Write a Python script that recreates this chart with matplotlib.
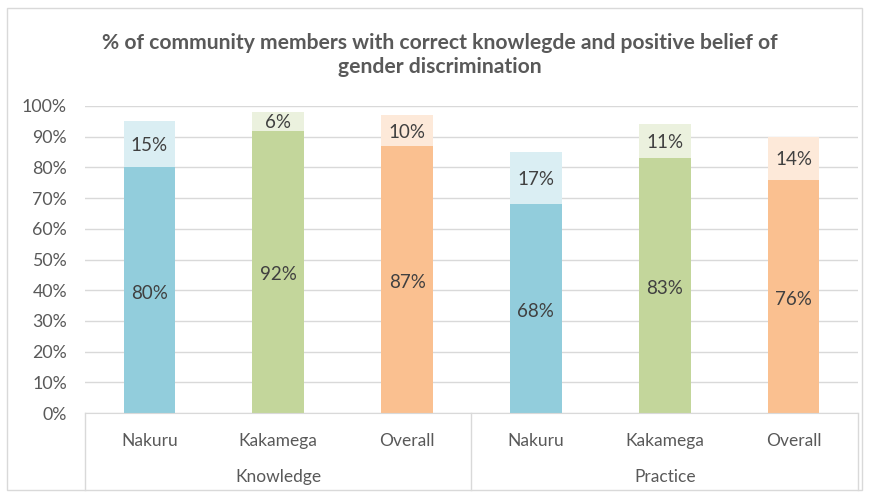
import numpy as np
import matplotlib.pyplot as plt
from matplotlib.patches import Rectangle

plt.rcParams['font.family'] = ['Lato', 'DejaVu Sans']

groups = ["Knowledge", "Practice"]
places = ["Nakuru", "Kakamega", "Overall"]
# correct / positive share and the extra share stacked on top
base = [0.80, 0.92, 0.87, 0.68, 0.83, 0.76]
extra = [0.15, 0.06, 0.10, 0.17, 0.11, 0.14]

dark = ["#92CDDC", "#C3D69B", "#FAC090"]
light = ["#DAEEF3", "#EBF1DE", "#FDE9D9"]
txt = "#404040"
grey = "#D9D9D9"

fig = plt.figure(figsize=(8.7, 4.92), dpi=100)
ax = fig.add_axes([85 / 870, 79 / 492, 773 / 870, 307 / 492])

x = np.arange(len(base))
cols_d = [dark[i % 3] for i in x]
cols_l = [light[i % 3] for i in x]
ax.bar(x, base, width=0.4, color=cols_d, zorder=2)
ax.bar(x, extra, width=0.4, bottom=base, color=cols_l, zorder=2)

for i in x:
    ax.text(i, base[i] / 2 - 0.01, f"{base[i]*100:.0f}%", ha="center", va="center",
            fontsize=13.5, color=txt)
    ax.text(i, base[i] + extra[i] / 2 - 0.005, f"{extra[i]*100:.0f}%", ha="center",
            va="center", fontsize=13.5, color=txt)

ax.set_xlim(-0.5, len(base) - 0.5)
ax.set_ylim(0, 1)
ax.set_yticks(np.arange(0, 1.01, 0.1))
ax.set_yticklabels([f"{v}%" for v in range(0, 101, 10)])
ax.tick_params(axis="y", length=0, labelsize=12.8, labelcolor="#595959", pad=13)
ax.set_xticks([])
ax.grid(axis="y", color=grey, lw=1, zorder=0)
for s in ["top", "right", "left"]:
    ax.spines[s].set_visible(False)
ax.spines["bottom"].set_color(grey)

# two-level category axis
for i in x:
    ax.text(i, -0.09, places[i % 3], ha="center", va="center", fontsize=12.5,
            color="#595959", transform=ax.get_xaxis_transform())
for g, name in enumerate(groups):
    ax.text(g * 3 + 1, -0.21, name, ha="center", va="center", fontsize=12.5,
            color="#595959", transform=ax.get_xaxis_transform())
for xv in [-0.5, 2.5, 5.5]:
    ax.plot([xv, xv], [0, -0.25], color=grey, lw=1, clip_on=False,
            transform=ax.get_xaxis_transform())

fig.text(0.506, 0.888, "% of community members with correct knowlegde and positive belief of\ngender discrimination",
         ha="center", va="center", fontsize=15.2, fontweight="bold", color="#595959",
         linespacing=1.25)

fig.patches.append(Rectangle((7 / 870, 2 / 492), 855 / 870, 482 / 492, fill=False,
                             edgecolor=grey, lw=1, transform=fig.transFigure))

fig.savefig("out.png", dpi=100)
